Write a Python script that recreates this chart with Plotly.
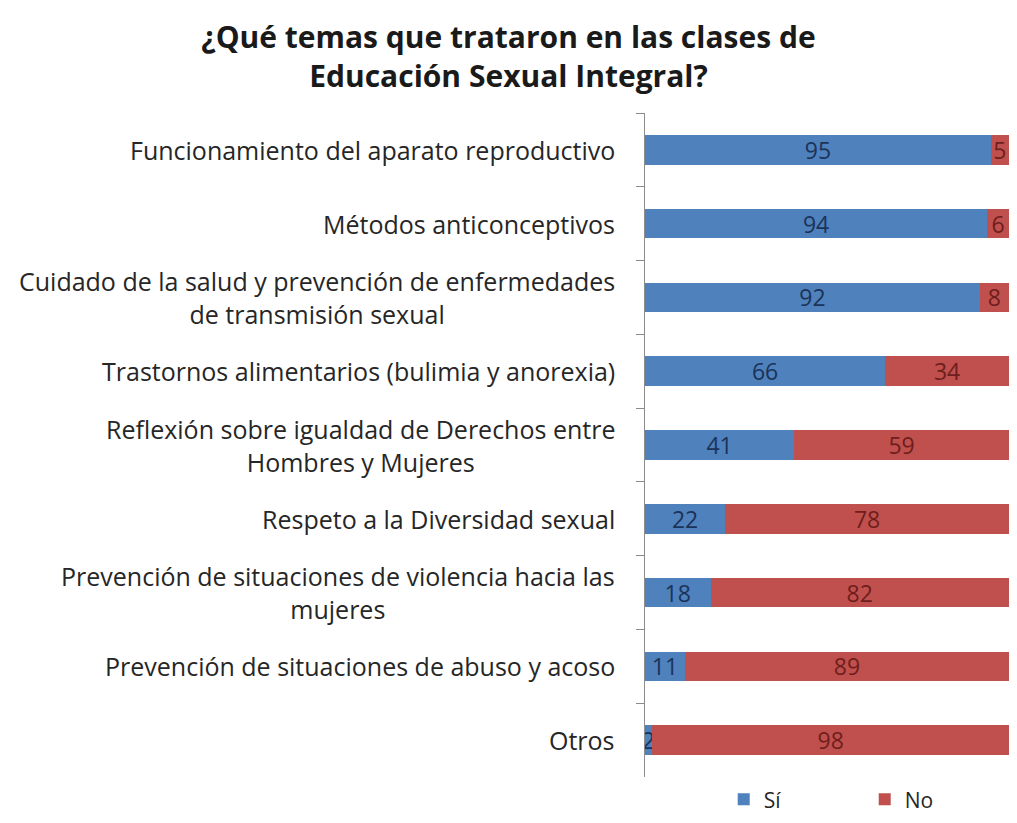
import plotly.graph_objects as go

temas = [
    'Funcionamiento del aparato reproductivo',
    'Métodos anticonceptivos',
    'Cuidado de la salud y prevención de enfermedades<br>de transmisión sexual',
    'Trastornos alimentarios (bulimia y anorexia)',
    'Reflexión sobre igualdad de Derechos entre<br>Hombres y Mujeres',
    'Respeto a la Diversidad sexual',
    'Prevención de situaciones de violencia hacia las<br>mujeres',
    'Prevención de situaciones de abuso y acoso',
    'Otros',
]
si = [95, 94, 92, 66, 41, 22, 18, 11, 2]
no = [5, 6, 8, 34, 59, 78, 82, 89, 98]

font_family = 'Open Sans, sans-serif'

# page body has an 8px margin, so keep the figure inside the window
W, H = 1001, 807

fig = go.Figure()
fig.add_trace(go.Bar(
    y=temas, x=si, name='Sí', orientation='h',
    marker=dict(color='#4F81BD', line=dict(width=0)),
    text=si, textposition='inside', insidetextanchor='middle', textangle=0,
    constraintext='none',
    textfont=dict(color='#1B3358', size=23, family=font_family),
))
fig.add_trace(go.Bar(
    y=temas, x=no, name='No', orientation='h',
    marker=dict(color='#C0504D', line=dict(width=0)),
    text=no, textposition='inside', insidetextanchor='middle', textangle=0,
    constraintext='none',
    textfont=dict(color='#6E1E1C', size=23, family=font_family),
))

# category labels: right-anchored, lines centred as in the original
for t in temas:
    fig.add_annotation(
        x=0, xref='paper', xanchor='right', xshift=-28,
        y=t, yref='y', text=t, showarrow=False, align='center',
        font=dict(size=25, color='#262626', family=font_family),
    )

fig.update_layout(
    barmode='stack',
    bargap=0.6,
    width=W, height=H,
    margin=dict(l=637, r=0, t=105, b=38),
    paper_bgcolor='white', plot_bgcolor='white',
    title=dict(
        text='<b>¿Qué temas que trataron en las clases de<br>Educación Sexual Integral?</b>',
        x=0.5, xanchor='center', y=1 - 40 / H, yanchor='top',
        font=dict(size=30, color='#1a1a1a', family=font_family),
    ),
    xaxis=dict(range=[0, 100], visible=False),
    yaxis=dict(
        autorange='reversed',
        showticklabels=False,
        showline=True, linecolor='#8c8c8c', linewidth=1,
        ticks='outside', ticklen=8, tickcolor='#8c8c8c', tickson='boundaries',
        showgrid=False,
    ),
    legend=dict(
        orientation='h', traceorder='normal',
        xref='container', yref='container',
        x=0.715, xanchor='left', y=0.019, yanchor='middle',
        font=dict(size=21, color='#262626', family=font_family),
        entrywidth=96, itemsizing='constant',
    ),
    showlegend=True,
)

fig.write_html('out.html')
